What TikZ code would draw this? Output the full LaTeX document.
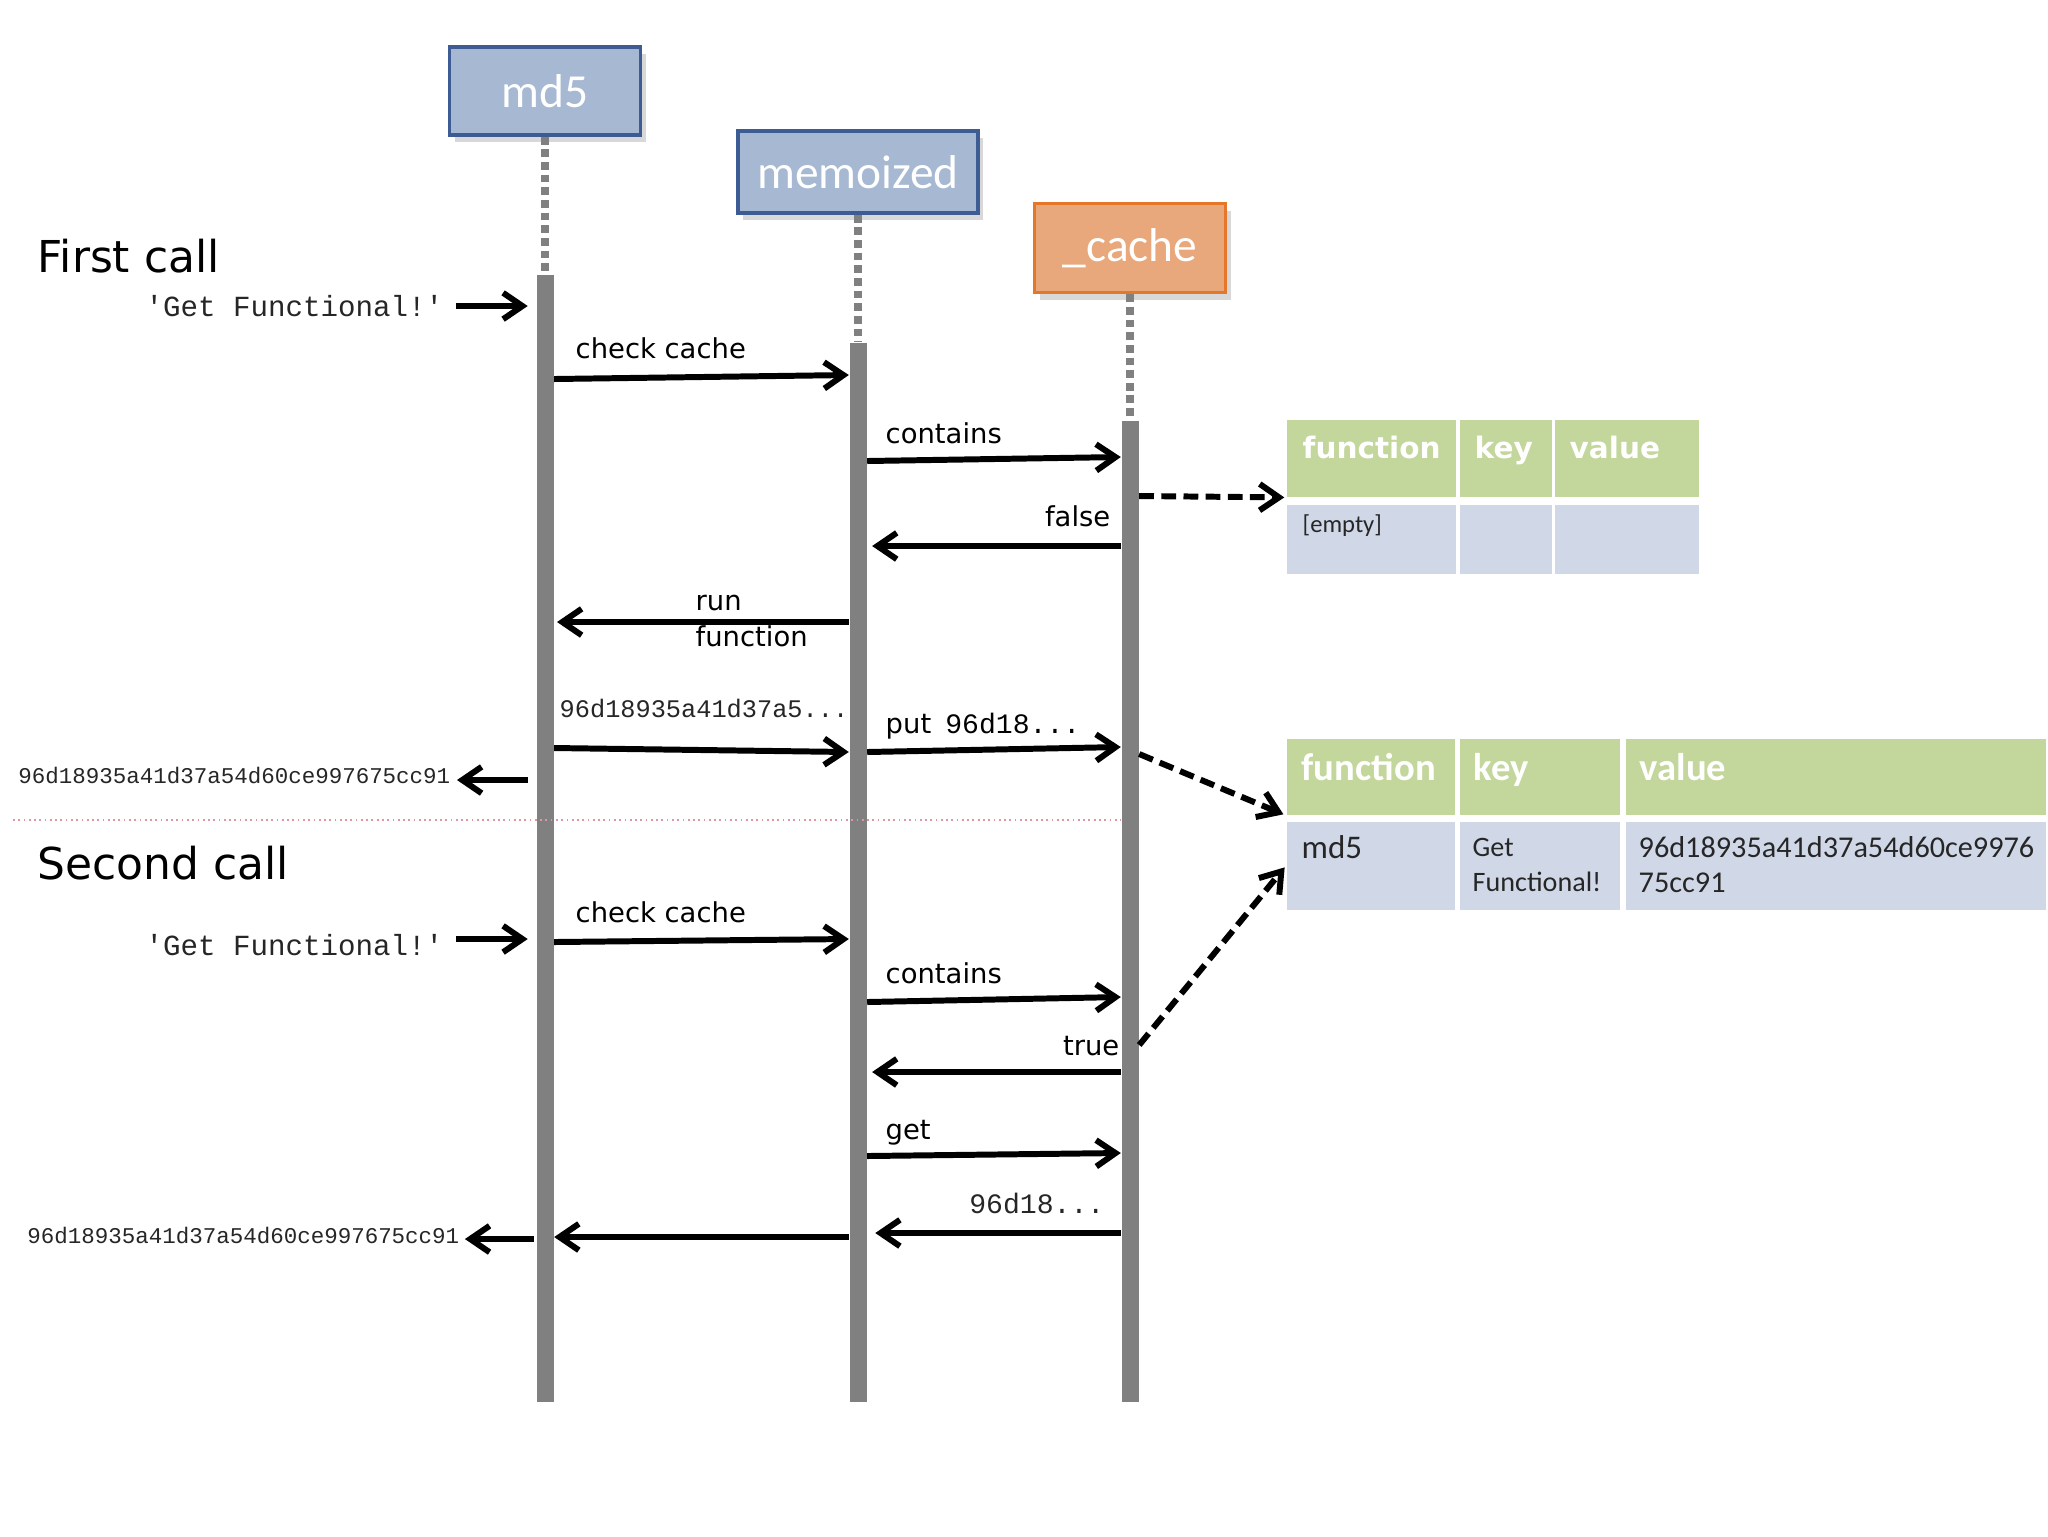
\documentclass[tikz,border=0pt]{standalone}
\usepackage{fontspec}
\setmainfont{DejaVu Sans}
\setmonofont{Liberation Mono}
\newfontfamily\boxfont{Carlito}
\usepackage{tikz}
\usepackage{xcolor}
\usetikzlibrary{arrows.meta,shadows}
\definecolor{boxblue}{RGB}{166,184,210}
\definecolor{boxline}{RGB}{62,92,148}
\definecolor{cacheorange}{RGB}{232,168,124}
\definecolor{cacheline}{RGB}{228,120,40}
\definecolor{lifegray}{RGB}{128,128,128}
\definecolor{headgreen}{RGB}{195,214,155}
\definecolor{bodyblue}{RGB}{208,216,232}
\definecolor{seppink}{RGB}{222,150,160}

\begin{document}
\begin{tikzpicture}[x=0.1mm,y=-0.1mm,
    objbox/.style={draw=boxline, fill=boxblue, line width=1pt, text=white, inner sep=0pt,
        font=\boxfont\fontsize{13.5}{16}\selectfont,
        drop shadow={opacity=0.3, shadow xshift=1.5pt, shadow yshift=-2pt}},
    actbar/.style={fill=lifegray, minimum width=1.7mm, inner sep=0pt, anchor=north},
    lifedots/.style={lifegray, line width=2.4pt, dash pattern=on 2.2pt off 1.4pt},
    msg/.style={line width=1.7pt, -{Straight Barb[length=5.5pt,width=7.5pt]}},
    dmsg/.style={msg, dash pattern=on 4.2pt off 2.1pt},
    lbl/.style={font=\fontsize{7.8}{10.2}\selectfont, inner sep=0pt},
    calltxt/.style={font=\fontsize{12.5}{15}\selectfont, inner sep=0pt, anchor=base west},
    monotxt/.style={font=\ttfamily\fontsize{8.3}{10}\selectfont, text=black!85, inner sep=0pt},
    hashtxt/.style={font=\ttfamily\fontsize{6.4}{8}\selectfont, text=black!85, inner sep=0pt},
    headcell/.style={fill=headgreen, anchor=north west, inner sep=0pt},
    bodycell/.style={fill=bodyblue, anchor=north west, inner sep=0pt},
    headA/.style={font=\bfseries\fontsize{8.4}{10}\selectfont, text=white, inner sep=0pt, anchor=base west},
    headB/.style={font=\boxfont\bfseries\fontsize{11}{13}\selectfont, text=white, inner sep=0pt, anchor=base west},
    bodytxt/.style={font=\boxfont\fontsize{8.6}{9.7}\selectfont, text=black!85, inner sep=0pt, anchor=base west, align=left}]

    \fill[white] (0,0) rectangle (2048,1536);
    \useasboundingbox (0,0) rectangle (2048,1536);

    % objects
    \node[objbox, minimum width=19.1mm, minimum height=8.8mm] (md5) at (545,91) {md5};
    \node[objbox, minimum width=24mm, minimum height=8.2mm] (memo) at (858,172) {memoized};
    \node[objbox, draw=cacheline, fill=cacheorange, minimum width=19.1mm, minimum height=8.9mm] (cache) at (1130,248) {\_cache};

    % lifelines
    \node[actbar, minimum height=112.7mm] (md5bar) at (545,274) {};
    \node[actbar, minimum height=105.9mm] (memobar) at (858,342) {};
    \node[actbar, minimum height=98.1mm] (cachebar) at (1130,420) {};
    \draw[lifedots] (md5.south) -- (md5bar.north);
    \draw[lifedots] (memo.south) -- (memobar.north);
    \draw[lifedots] (cache.south) -- (cachebar.north);

    % cache tables
    \node[headcell, minimum width=16.9mm, minimum height=7.7mm] (t1h1) at (1286,419) {};
    \node[headcell, minimum width=9.2mm, minimum height=7.7mm] (t1h2) at (1459,419) {};
    \node[headcell, minimum width=14.4mm, minimum height=7.7mm] (t1h3) at (1554,419) {};
    \node[bodycell, minimum width=16.9mm, minimum height=6.9mm] (t1b1) at (1286,504) {};
    \node[bodycell, minimum width=9.2mm, minimum height=6.9mm] (t1b2) at (1459,504) {};
    \node[bodycell, minimum width=14.4mm, minimum height=6.9mm] (t1b3) at (1554,504) {};
    \node[headA] (t1l1) at (1302,458) {function};
    \node[headA] (t1l2) at (1474,458) {key};
    \node[headA] (t1l3) at (1569,458) {value};
    \node[bodytxt, font=\boxfont\fontsize{7}{8}\selectfont] (t1e) at (1302,532) {[empty]};

    \node[headcell, minimum width=16.8mm, minimum height=7.6mm] (t2h1) at (1286,738) {};
    \node[headcell, minimum width=16mm, minimum height=7.6mm] (t2h2) at (1459,738) {};
    \node[headcell, minimum width=42mm, minimum height=7.6mm] (t2h3) at (1625,738) {};
    \node[bodycell, minimum width=16.8mm, minimum height=8.8mm] (t2b1) at (1286,821) {};
    \node[bodycell, minimum width=16mm, minimum height=8.8mm] (t2b2) at (1459,821) {};
    \node[bodycell, minimum width=42mm, minimum height=8.8mm] (t2b3) at (1625,821) {};
    \node[headB] (t2l1) at (1301,780) {function};
    \node[headB] (t2l2) at (1473,780) {key};
    \node[headB] (t2l3) at (1639,780) {value};
    \node[bodytxt, font=\boxfont\fontsize{9.4}{11}\selectfont] (t2fn) at (1301,858) {md5};
    \node[bodytxt, font=\boxfont\fontsize{8}{9.7}\selectfont] (t2key) at (1472,891) {Get\\Functional!};
    \node[bodytxt] (t2val) at (1638,892) {96d18935a41d37a54d60ce9976\\75cc91};

    % first call
    \node[calltxt] (first) at (37,272) {First call};
    \node[monotxt, anchor=east] (in1) at (444,306) {'Get Functional!'};
    \draw[msg, shorten <=3.4pt, shorten >=2.3pt] (in1.east) -- (md5bar.west |- in1.east);

    \node[lbl, anchor=base west] (chk1) at (575,358) {check cache};
    \draw[msg] (md5bar.east |- 0,379) -- (memobar.west |- 0,375);

    \node[lbl, anchor=base west] (con1) at (885,443) {contains};
    \draw[msg] (memobar.east |- 0,461) -- (cachebar.west |- 0,457);

    \node[lbl, anchor=base east] (false) at (1111,526) {false};
    \draw[msg, shorten >=1.4pt] (cachebar.west |- 0,546) -- (memobar.east |- 0,546);
    \draw[dmsg, shorten >=0.5pt] (cachebar.east |- 0,496) -- (t1h1.south west);

    \node[lbl, anchor=base west, align=left] (run) at (695,646) {run\\function};
    \draw[msg, shorten >=0.8pt] (memobar.west |- 0,622) -- (md5bar.east |- 0,622);

    \node[hashtxt, font=\ttfamily\fontsize{7.2}{9}\selectfont, anchor=base west] (hash1) at (559,717) {96d18935a41d37a5...};
    \draw[msg] (md5bar.east |- 0,748) -- (memobar.west |- 0,752);

    \node[lbl, anchor=base west] (put) at (885,733) {put\hspace{4pt}{\ttfamily\fontsize{8}{10}\selectfont 96d18...}};
    \draw[msg] (memobar.east |- 0,752) -- (cachebar.west |- 0,747);
    \draw[dmsg, shorten >=0.8pt] (cachebar.east |- 0,754) -- (t2h1.south west);

    \node[hashtxt, anchor=east] (ret1) at (451,775) {96d18935a41d37a54d60ce997675cc91};
    \draw[msg, shorten <=2.3pt, shorten >=1.7pt] (md5bar.west |- 0,780) -- (ret1.east |- 0,780);

    % separator
    \draw[seppink, densely dotted, line width=0.5pt] (13,820) -- (cachebar.west |- 0,820);

    % second call
    \node[calltxt] (second) at (37,879) {Second call};
    \node[monotxt, anchor=east] (in2) at (444,945) {'Get Functional!'};
    \draw[msg, shorten <=3.4pt, shorten >=2.3pt] (in2.east |- 0,939) -- (md5bar.west |- 0,939);

    \node[lbl, anchor=base west] (chk2) at (575,922) {check cache};
    \draw[msg] (md5bar.east |- 0,942) -- (memobar.west |- 0,939);

    \node[lbl, anchor=base west] (con2) at (885,983) {contains};
    \draw[msg] (memobar.east |- 0,1002) -- (cachebar.west |- 0,997);

    \node[lbl, anchor=base east] (true) at (1120,1055) {true};
    \draw[msg, shorten >=1.4pt] (cachebar.west |- 0,1072) -- (memobar.east |- 0,1072);
    \draw[dmsg, shorten >=0.6pt] (cachebar.east |- 0,1045) -- (t2b1.west);

    \node[lbl, anchor=base west] (get) at (885,1139) {get};
    \draw[msg] (memobar.east |- 0,1156) -- (cachebar.west |- 0,1153);

    \node[monotxt, font=\ttfamily\fontsize{8}{10}\selectfont, anchor=base east] (val2) at (1105,1213) {96d18...};
    \draw[msg, shorten >=2.3pt] (cachebar.west |- 0,1233) -- (memobar.east |- 0,1233);
    \draw[msg] (memobar.west |- 0,1237) -- (md5bar.east |- 0,1237);

    \node[hashtxt, anchor=east] (ret2) at (460,1235) {96d18935a41d37a54d60ce997675cc91};
    \draw[msg, shorten <=0.6pt, shorten >=1.4pt] (md5bar.west |- 0,1239) -- (ret2.east |- 0,1239);

\end{tikzpicture}
\end{document}
